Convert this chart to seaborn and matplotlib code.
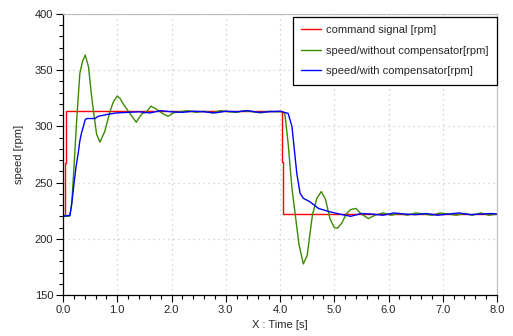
import matplotlib
matplotlib.use("Agg")
import matplotlib.pyplot as plt
import seaborn as sns
import pandas as pd
from matplotlib.ticker import MultipleLocator, FormatStrFormatter

# ---- data ----
cmd_t = [0.0, 0.03, 0.03, 0.05, 0.05, 4.04, 4.04, 4.06, 4.06, 8.0]
cmd_v = [221, 221, 267, 267, 313.5, 313.5, 268, 268, 222, 222]

green_t = [0.0, 0.12, 0.16, 0.20, 0.25, 0.31, 0.36, 0.41, 0.47, 0.52, 0.56, 0.62, 0.68,
           0.77, 0.87, 0.93, 1.0, 1.05, 1.11, 1.24, 1.35, 1.45, 1.54, 1.62, 1.70, 1.76,
           1.85, 1.94, 2.03, 2.15, 2.3, 2.45, 2.6, 2.75, 2.9, 3.05, 3.2, 3.35, 3.5,
           3.65, 3.8, 3.95, 4.05, 4.09, 4.15, 4.22, 4.28, 4.35, 4.43, 4.50, 4.60,
           4.68, 4.76, 4.84, 4.92, 5.00, 5.06, 5.14, 5.22, 5.30, 5.40, 5.50, 5.63,
           5.75, 5.9, 6.05, 6.2, 6.35, 6.5, 6.65, 6.8, 6.95, 7.1, 7.25, 7.4, 7.55,
           7.7, 7.85, 8.0]
green_v = [220, 220, 230, 262, 304, 347, 358, 363.5, 353, 330, 314, 293, 286,
           295.5, 314, 322, 327, 325, 320, 311, 303.7, 311, 313, 318, 316, 314,
           311, 309, 312, 313, 314, 312.5, 313.5, 312, 314, 313, 312.5, 314, 313,
           312, 313.5, 313, 313, 311, 285, 245, 222, 195, 177.6, 185, 222,
           236, 242, 235, 218, 210, 209.5, 214, 222, 226, 227, 222, 218,
           221, 223, 221, 222.5, 221, 223, 222, 221, 223, 222, 221, 222.5, 221,
           223, 221, 222]

blue_t = [0.0, 0.13, 0.17, 0.21, 0.24, 0.28, 0.31, 0.34, 0.41, 0.44, 0.59, 0.65,
          0.75, 0.85, 0.99, 1.2, 1.4, 1.6, 1.8, 2.0, 2.2, 2.4, 2.6, 2.8, 3.0, 3.2,
          3.4, 3.6, 3.8, 4.0, 4.15, 4.22, 4.31, 4.37, 4.43, 4.55, 4.71, 4.92,
          5.1, 5.3, 5.5, 5.7, 5.9, 6.1, 6.3, 6.5, 6.7, 6.9, 7.1, 7.3, 7.5, 7.7,
          7.9, 8.0]
blue_v = [220, 221, 235, 252, 264, 276, 287, 294, 306, 307, 307, 309,
          310, 311, 312, 312.5, 313, 312, 314, 313, 312.5, 313.5, 313, 312, 313.5,
          313, 314, 312.5, 313, 313.5, 311.6, 300, 258, 240.5, 236, 233, 227, 224,
          222, 220, 222.5, 222, 221, 223, 222, 221.5, 222.5, 221, 222, 223, 221.5,
          222, 222.5, 222]

labels = ["command signal [rpm]", "speed/without compensator[rpm]",
          "speed/with compensator[rpm]"]
colors = ["#ff0000", "#3c8a00", "#0000ff"]

frames = []
for name, t, v in zip(labels, [cmd_t, green_t, blue_t], [cmd_v, green_v, blue_v]):
    frames.append(pd.DataFrame({"t": t, "v": v, "series": name, "order": range(len(t))}))
df = pd.concat(frames, ignore_index=True)

sns.set_style("white")
plt.rcParams["font.family"] = ["Liberation Sans", "DejaVu Sans"]

fig = plt.figure(figsize=(5.13, 3.36), dpi=100)
ax = fig.add_axes([63 / 513, 41 / 336, 434 / 513, 281 / 336])

for name, col in zip(labels, colors):
    sub = df[df["series"] == name]
    sns.lineplot(data=sub, x="t", y="v", ax=ax, color=col, lw=1.0,
                 estimator=None, sort=False, label=name)

ax.set_xlim(0, 8)
ax.set_ylim(150, 400)
ax.xaxis.set_major_locator(MultipleLocator(1))
ax.xaxis.set_minor_locator(MultipleLocator(0.2))
ax.yaxis.set_major_locator(MultipleLocator(50))
ax.yaxis.set_minor_locator(MultipleLocator(10))
ax.xaxis.set_major_formatter(FormatStrFormatter("%.1f"))
ax.grid(True, which="major", color="#c8c8c8", linestyle=(0, (1, 3)), lw=0.9)
ax.tick_params(which="major", direction="out", length=5, width=0.8, color="black",
               labelsize=8, left=True, bottom=True, pad=2)
ax.tick_params(which="minor", direction="out", length=3, width=0.8, color="black",
               left=True, bottom=True)
for s in ["left", "bottom"]:
    ax.spines[s].set_color("black")
    ax.spines[s].set_linewidth(0.9)
for s in ["top", "right"]:
    ax.spines[s].set_color("#c0c0c0")
    ax.spines[s].set_linewidth(0.9)

ax.set_xlabel("X : Time [s]", fontsize=8, labelpad=4)
ax.set_ylabel("speed [rpm]", fontsize=8, labelpad=8)

leg = ax.legend(loc="upper right", bbox_to_anchor=(1.0, 0.99), fontsize=8,
                frameon=True, fancybox=False, framealpha=1, edgecolor="black",
                handlelength=1.8, handletextpad=0.45, labelspacing=0.95,
                borderpad=0.75, borderaxespad=0.0)
leg.get_frame().set_linewidth(0.9)

fig.savefig("out.png", dpi=100, facecolor="white")
